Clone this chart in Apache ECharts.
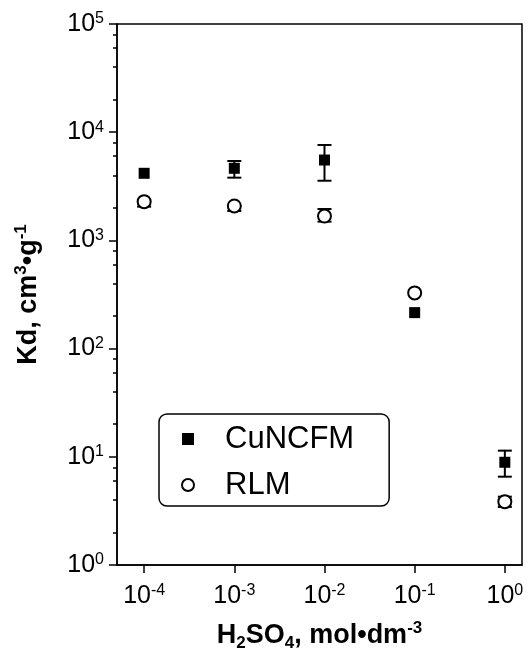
<!DOCTYPE html>
<html>
<head>
<meta charset="utf-8">
<script src="https://cdn.jsdelivr.net/npm/echarts@6/dist/echarts.min.js"></script>
<style>
  html, body { margin: 0; padding: 0; background: #fff; }
  #chart { width: 529px; height: 666px; }
</style>
</head>
<body>
<div id="chart"></div>
<script>
// H2SO4 concentration, mol/dm3
const acidConc = [1e-4, 1e-3, 1e-2, 1e-1, 1];

// Kd values
const cuncfmKd = [4170, 4640, 5530, 215, 8.9];
const cuncfmLow = [4170, 3800, 3560, 215, 6.55];
const cuncfmHigh = [4170, 5420, 7620, 215, 11.4];

const rlmKd = [2280, 2080, 1680, 327, 3.85];
const rlmLow = [2050, 1870, 1490, 327, 3.44];
const rlmHigh = [2280, 2080, 1950, 327, 4.28];

const yMajorTicks = [1, 10, 100, 1000, 10000, 100000];
const yMinorTicks = [];
yMajorTicks.slice(0, -1).forEach(d => {
  [2, 4, 6, 8].forEach(m => yMinorTicks.push(m * d));
});
const xTicks = [1e-4, 1e-3, 1e-2, 1e-1, 1];

const FONT = 'Liberation Sans';

const chart = echarts.init(document.getElementById('chart'), null, { renderer: 'canvas' });

// exponent label like 10^-2
const powLabel = v => '{b|10}{s|' + Math.round(Math.log10(v)) + '}';

const labelRich = {
  b: { fontFamily: FONT, fontSize: 25, color: '#000', lineHeight: 26 },
  s: { fontFamily: FONT, fontSize: 16, color: '#000', lineHeight: 26, verticalAlign: 'top' }
};

const nameRich = {
  b: { fontFamily: FONT, fontWeight: 'bold', fontSize: 27, color: '#000', lineHeight: 32 },
  sub: { fontFamily: FONT, fontWeight: 'bold', fontSize: 17, color: '#000', lineHeight: 32, verticalAlign: 'bottom' },
  sup: { fontFamily: FONT, fontWeight: 'bold', fontSize: 17, color: '#000', lineHeight: 32, verticalAlign: 'top' }
};

const errorRender = (params, api) => {
  const x = api.value(0);
  const lo = api.value(1);
  const hi = api.value(2);
  if (lo === hi) return null;
  const pLo = api.coord([x, lo]);
  const pHi = api.coord([x, hi]);
  const w = 7;
  const st = { stroke: '#000', lineWidth: 2 };
  return {
    type: 'group',
    children: [
      { type: 'line', shape: { x1: pLo[0], y1: pLo[1], x2: pHi[0], y2: pHi[1] }, style: st },
      { type: 'line', shape: { x1: pLo[0] - w, y1: pLo[1], x2: pLo[0] + w, y2: pLo[1] }, style: st },
      { type: 'line', shape: { x1: pHi[0] - w, y1: pHi[1], x2: pHi[0] + w, y2: pHi[1] }, style: st }
    ]
  };
};

const option = {
  backgroundColor: '#fff',
  animation: false,
  grid: {
    left: 117, right: 7, top: 24, bottom: 101,
    show: true, borderColor: '#000', borderWidth: 1.5
  },
  legend: {
    orient: 'vertical',
    left: 159,
    top: 414,
    padding: [8, 35, 4, 22],
    itemGap: 12,
    itemWidth: 12,
    itemHeight: 12,
    borderColor: '#000',
    borderWidth: 1.5,
    borderRadius: 8,
    textStyle: { fontFamily: FONT, fontSize: 31, color: '#000', lineHeight: 34, padding: [0, 0, 0, 26] },
    data: ['CuNCFM', 'RLM']
  },
  xAxis: {
    type: 'log',
    logBase: 10,
    min: 5e-5,
    max: 1.55,
    name: '{b|H}{sub|2}{b|SO}{sub|4}{b|, mol•dm}{sup|-3}',
    nameLocation: 'middle',
    nameGap: 55,
    nameTextStyle: { fontFamily: FONT, fontSize: 27, fontWeight: 'bold', rich: nameRich },
    axisLine: { lineStyle: { color: '#000', width: 1.5 } },
    axisTick: { show: true, length: 8, customValues: xTicks, lineStyle: { color: '#000', width: 1.5 } },
    axisLabel: { margin: 18, fontFamily: FONT, fontSize: 25, color: '#000', customValues: xTicks, formatter: powLabel, rich: labelRich },
    splitLine: { show: false },
    minorTick: { show: false }
  },
  yAxis: [
    {
      type: 'log',
      logBase: 10,
      min: 1,
      max: 100000,
      name: '{b|Kd, cm}{sup|3}{b|•g}{sup|-1}',
      nameLocation: 'middle',
      nameGap: 72,
      nameTextStyle: { fontFamily: FONT, fontSize: 27, fontWeight: 'bold', rich: nameRich },
      axisLine: { lineStyle: { color: '#000', width: 1.5 } },
      axisTick: { show: true, length: 8, customValues: yMajorTicks, lineStyle: { color: '#000', width: 1.5 } },
      axisLabel: { margin: 13, fontFamily: FONT, fontSize: 25, color: '#000', customValues: yMajorTicks, formatter: powLabel, rich: labelRich },
      splitLine: { show: false }
    },
    {
      type: 'log',
      logBase: 10,
      min: 1,
      max: 100000,
      position: 'left',
      offset: 0,
      axisLine: { show: false },
      axisTick: { show: true, length: 4, customValues: yMinorTicks, lineStyle: { color: '#000', width: 1.5 } },
      axisLabel: { show: false },
      splitLine: { show: false }
    }
  ],
  series: [
    {
      name: 'CuNCFM-err',
      type: 'custom',
      renderItem: errorRender,
      encode: { x: 0, y: [1, 2] },
      data: acidConc.map((x, i) => [x, cuncfmLow[i], cuncfmHigh[i]]),
      z: 1
    },
    {
      name: 'RLM-err',
      type: 'custom',
      renderItem: errorRender,
      encode: { x: 0, y: [1, 2] },
      data: acidConc.map((x, i) => [x, rlmLow[i], rlmHigh[i]]),
      z: 1
    },
    {
      name: 'CuNCFM',
      type: 'scatter',
      symbol: 'rect',
      symbolSize: 11,
      itemStyle: { color: '#000', opacity: 1 },
      data: acidConc.map((x, i) => [x, cuncfmKd[i]]),
      z: 3
    },
    {
      name: 'RLM',
      type: 'scatter',
      symbol: 'circle',
      symbolSize: 13,
      itemStyle: { color: '#fff', borderColor: '#000', borderWidth: 2, opacity: 1 },
      data: acidConc.map((x, i) => [x, rlmKd[i]]),
      z: 3
    }
  ]
};

chart.setOption(option);
</script>
</body>
</html>
